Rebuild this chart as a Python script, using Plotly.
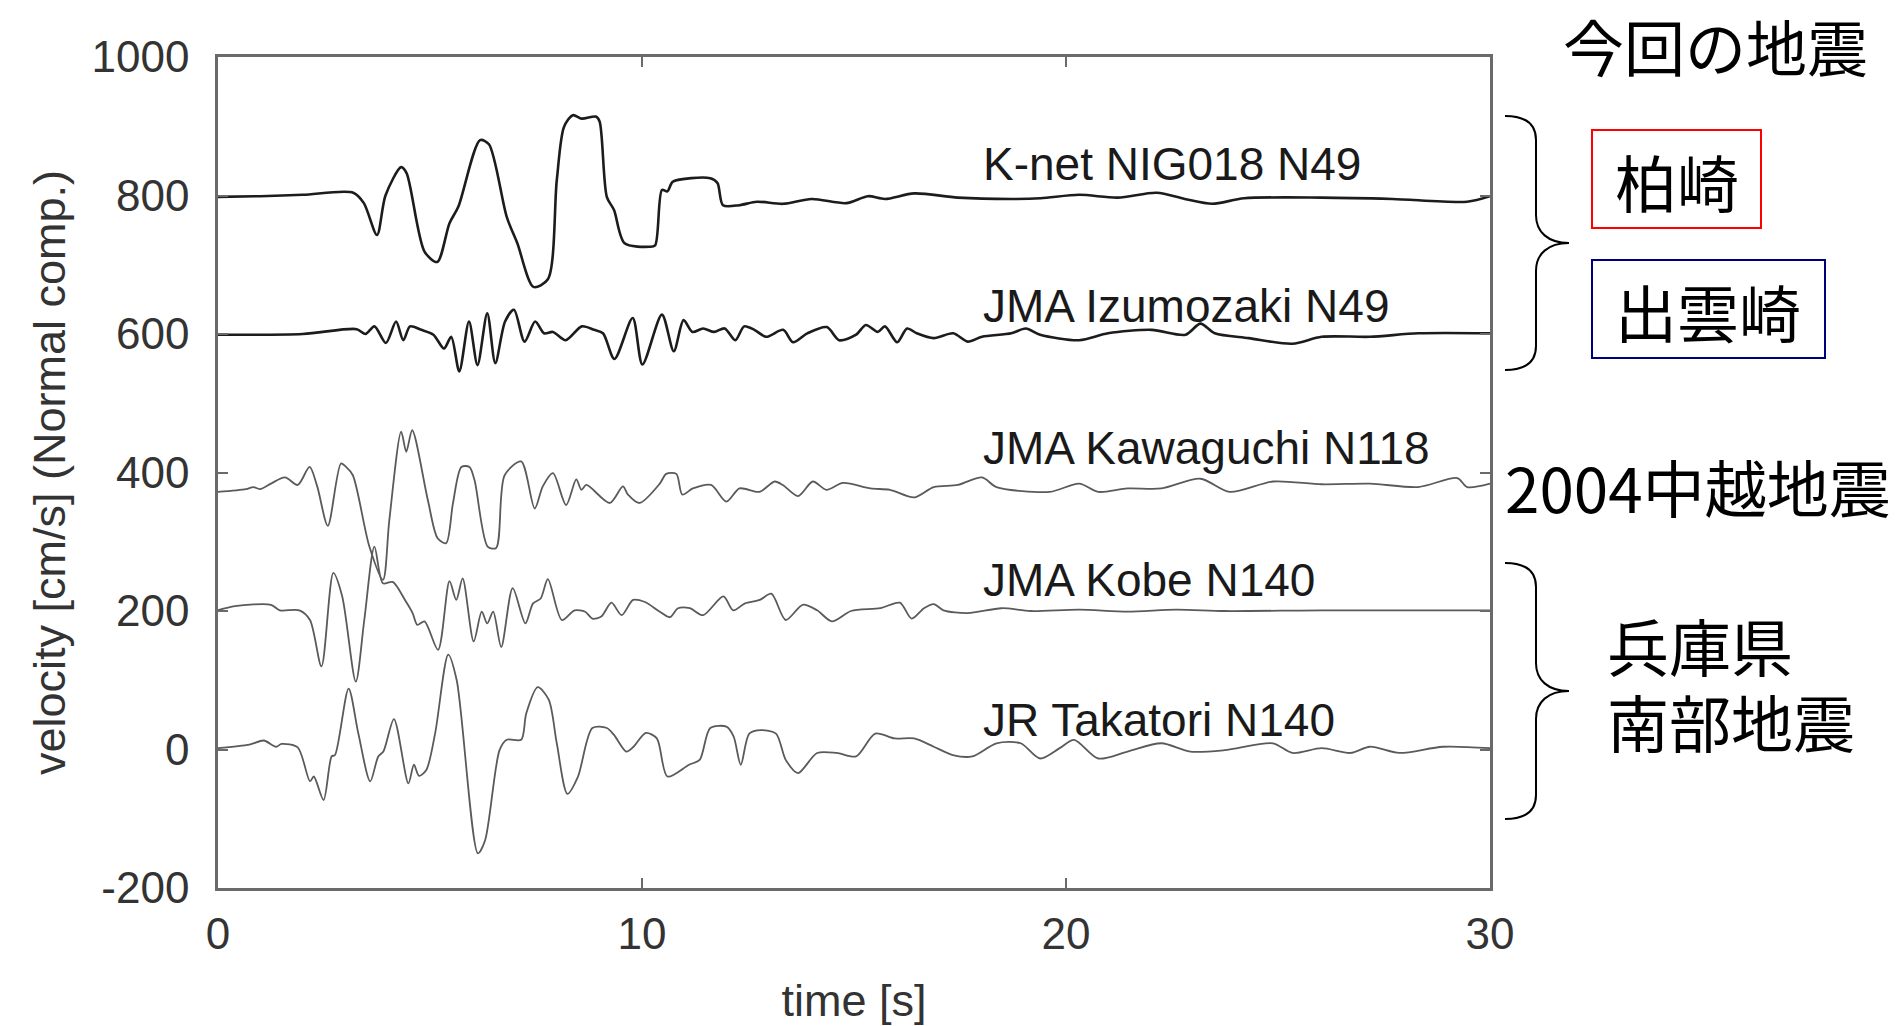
import plotly.graph_objects as go

# ---------------------------------------------------------------------------
# Velocity waveforms (normal component), each record shifted by its own offset
# time in seconds, velocity in cm/s (offset included)
# ---------------------------------------------------------------------------
knet_t = [0, 1.0, 2.0, 3.19, 3.44, 3.75, 3.95, 4.32, 4.45, 4.87, 5.17, 5.46, 5.67, 6.18, 6.39,
          6.81, 7.06, 7.44, 7.78, 7.99, 8.16, 8.37, 8.58, 8.91, 9.0, 9.17, 9.34, 9.59, 10.18,
          10.31, 10.47, 10.6, 10.73, 11.61, 11.78, 11.91, 12.29, 12.71, 13.33, 14.0, 14.82,
          15.33, 15.73, 16.42, 17.45, 18.71, 19.4, 20.31, 21.22, 22.14, 22.8, 23.45, 24.2,
          26.03, 27.7, 29.46, 30.0]
knet_v = [798, 799, 801, 804, 789, 743, 800, 841, 832, 719, 704, 760, 784, 880, 874,
          769, 731, 668, 679, 822, 899, 916, 911, 914, 907, 798, 779, 731, 726,
          728, 808, 806, 820, 825, 818, 786, 786, 791, 788, 795, 789,
          799, 795, 803, 797, 795, 796, 801, 797, 804, 795, 788, 796,
          797, 795, 791, 799]

izumo_t = [0, 2.0, 3.27, 3.48, 3.69, 3.96, 4.20, 4.37, 4.53, 4.79, 5.08, 5.33, 5.50, 5.69,
           5.92, 6.12, 6.35, 6.54, 6.77, 6.98, 7.23, 7.48, 7.69, 7.90, 8.20, 8.58, 8.87,
           9.08, 9.35, 9.78, 10.01, 10.47, 10.75, 10.98, 11.19, 11.44, 11.70, 11.95, 12.20,
           12.41, 12.65, 12.93, 13.33, 13.56, 13.90, 14.36, 14.65, 15.05, 15.28, 15.56,
           15.73, 16.02, 16.25, 16.48, 16.88, 17.34, 17.68, 18.02, 18.71, 19.05, 19.39,
           20.31, 20.99, 22.02, 22.82, 23.17, 23.51, 24.31, 25.34, 26.03, 27.17, 28.31, 30.0]
izumo_v = [599, 600, 607, 600, 611, 587, 618, 591, 611, 606, 599, 579, 596, 546,
           618, 555, 630, 558, 618, 635, 589, 618, 601, 603, 591, 611, 606,
           601, 564, 623, 556, 628, 575, 620, 603, 608, 603, 608, 591,
           611, 606, 596, 606, 588, 601, 610, 591, 599, 613, 603,
           611, 588, 608, 601, 594, 601, 589, 596, 601, 608, 599,
           591, 601, 606, 599, 615, 601, 594, 586, 596, 596, 601, 601]

kawa_t = [0, 0.66, 0.83, 0.99, 1.25, 1.58, 1.88, 2.16, 2.34, 2.59, 2.90, 3.02, 3.18, 3.57,
          3.89, 4.04, 4.32, 4.44, 4.58, 4.95, 5.18, 5.38, 5.54, 5.74, 5.93, 6.05, 6.36,
          6.56, 6.76, 7.15, 7.47, 7.66, 7.90, 8.21, 8.45, 8.57, 8.69, 9.24, 9.55, 9.67,
          9.94, 10.42, 10.57, 10.81, 10.95, 11.2, 11.63, 11.99, 12.30, 12.77, 13.13, 13.32,
          13.68, 14.03, 14.35, 14.74, 15.39, 15.85, 16.42, 16.88, 17.45, 18.02, 18.36,
          19.62, 20.31, 20.76, 21.45, 22.25, 23.17, 23.86, 24.88, 26.03, 27.17, 28.31,
          29.23, 29.46, 30.0]
kawa_v = [372, 376, 379, 376, 384, 393, 382, 408, 380, 323, 413, 408, 396, 293,
          245, 331, 459, 430, 461, 360, 305, 298, 355, 408, 408, 389, 293,
          291, 396, 416, 348, 380, 399, 353, 390, 375, 382, 356, 380, 368,
          356, 384, 398, 398, 368, 377, 382, 358, 377, 372, 387, 382,
          366, 387, 375, 385, 377, 375, 364, 379, 382, 393, 379,
          372, 384, 372, 377, 377, 391, 372, 387, 383, 384, 379,
          392, 379, 384]

kobe_t = [0, 0.40, 1.25, 1.46, 1.92, 2.17, 2.44, 2.72, 2.93, 3.25, 3.45, 3.69, 3.89, 4.12,
          4.41, 4.59, 4.70, 4.87, 5.19, 5.46, 5.62, 5.77, 6.03, 6.22, 6.35, 6.49, 6.68,
          6.95, 7.25, 7.43, 7.61, 7.78, 8.11, 8.41, 8.66, 8.83, 9.04, 9.28, 9.52, 9.79,
          10.07, 10.42, 10.66, 10.85, 11.13, 11.44, 11.92, 12.15, 12.43, 12.78, 13.05,
          13.39, 13.79, 14.13, 14.48, 14.93, 15.62, 16.08, 16.36, 16.65, 16.88, 17.11,
          17.68, 18.48, 19.17, 20.31, 21.45, 22.60, 23.74, 26.03, 30.0]
kobe_v = [201, 207, 209, 201, 201, 187, 120, 255, 221, 98, 187, 293, 240, 242,
          216, 197, 180, 185, 144, 243, 216, 247, 156, 199, 182, 199, 148,
          233, 182, 211, 218, 246, 187, 201, 199, 189, 192, 212, 194, 216,
          213, 199, 191, 204, 204, 194, 221, 201, 211, 216, 225,
          187, 209, 201, 185, 200, 204, 212, 189, 204, 210, 201,
          197, 204, 200, 202, 199, 202, 200, 201, 201]

taka_t = [0, 0.74, 1.08, 1.37, 1.50, 1.88, 2.17, 2.26, 2.49, 2.68, 2.76, 3.08, 3.31, 3.59,
          3.78, 3.90, 4.15, 4.49, 4.62, 4.74, 4.91, 5.12, 5.43, 5.63, 6.13, 6.30, 6.64,
          6.81, 7.15, 7.27, 7.54, 7.80, 7.99, 8.24, 8.49, 8.83, 9.17, 9.34, 9.63, 9.80,
          10.09, 10.35, 10.60, 11.11, 11.36, 11.61, 11.99, 12.16, 12.33, 12.53, 12.81,
          13.16, 13.39, 13.68, 14.13, 14.59, 15.05, 15.50, 15.96, 16.42, 16.88, 17.33,
          17.79, 18.36, 18.93, 19.39, 19.85, 20.19, 20.76, 21.45, 22.25, 22.93, 23.74,
          24.88, 25.34, 26.03, 26.71, 27.17, 27.86, 28.89, 30.0]
taka_v = [2, 7, 13, 4, 8, 3, -46, -39, -73, -10, -8, 88, 23, -46,
          -10, -3, 44, -49, -22, -38, -30, 23, 137, 100, -150, -131, -1,
          14, 14, 52, 90, 72, 9, -64, -39, 31, 31, 21, -3, 4,
          24, 16, -39, -22, -15, 31, 33, 19, -22, 23, 28,
          23, -15, -34, -5, -5, -10, 23, 16, 16, 4, -8,
          -10, 9, 9, -13, 2, 14, -13, -3, 9, -3, -1,
          9, -5, 2, -5, 4, -5, 4, 2]

station_names = ["K-net NIG018 N49", "JMA Izumozaki N49", "JMA Kawaguchi N118",
                 "JMA Kobe N140", "JR Takatori N140"]
label_t = [18, 18, 18, 18, 18]
label_v = [845, 640, 436, 245, 42]

y_ticks = [-200, 0, 200, 400, 600, 800, 1000]
y_ticktext = ["-200", "0", "200", "400", "600", "800", "1000"]
x_ticks = [0, 10, 20, 30]

# ---------------------------------------------------------------------------
W, H = 1904, 1026
ML, MR, MT, MB = 218, 414, 57, 138
PW, PH = W - ML - MR, H - MT - MB

def fx(x):
    """page pixel x -> paper coordinate"""
    return (x - ML) / PW

def fy(y):
    """page pixel y -> paper coordinate"""
    return (H - MB - y) / PH

LATIN = "Liberation Sans, Arial, sans-serif"
CJK = "Noto Sans CJK JP, sans-serif"
FRAME = "#6a6a6a"

fig = go.Figure()

series = [
    (knet_t, knet_v, "#1c1c1c", 2.6),
    (izumo_t, izumo_v, "#1c1c1c", 2.6),
    (kawa_t, kawa_v, "#5a5a5a", 1.8),
    (kobe_t, kobe_v, "#5a5a5a", 1.8),
    (taka_t, taka_v, "#5a5a5a", 1.8),
]
for (t, v, col, lw), name in zip(series, station_names):
    fig.add_trace(go.Scatter(
        x=t, y=v, mode="lines", name=name,
        line=dict(color=col, width=lw, shape="spline", smoothing=0.8),
        showlegend=False, hoverinfo="skip",
    ))

annotations = []
for name, t, v in zip(station_names, label_t, label_v):
    annotations.append(dict(
        x=t, y=v, xref="x", yref="y", text=name, showarrow=False,
        xanchor="left", yanchor="middle",
        font=dict(family=LATIN, size=46, color="#1a1a1a"),
    ))

def note(text, x, y, anchor="center", size=62):
    annotations.append(dict(
        x=fx(x), y=fy(y), xref="paper", yref="paper", text=text, showarrow=False,
        xanchor=anchor, yanchor="middle",
        font=dict(family=CJK, size=size, color="#000000"),
    ))

note("今回の地震", 1716, 45, size=61)
note("柏崎", 1677, 181)
note("出雲崎", 1708, 311)
note("2004中越地震", 1503, 486, "left")
note("兵庫県", 1605, 645, "left")
note("南部地震", 1605, 721, "left")

def brace(top, bottom):
    mid = (top + bottom) / 2
    xs, xv, xt = 1505, 1536, 1569
    pts = [
        ("M", [(xs, top)]),
        ("C", [(xs + 20, top), (xv, top + 8), (xv, top + 24)]),
        ("L", [(xv, mid - 28)]),
        ("C", [(xv, mid - 11), (xv + 12, mid), (xt, mid)]),
        ("C", [(xv + 12, mid), (xv, mid + 11), (xv, mid + 28)]),
        ("L", [(xv, bottom - 24)]),
        ("C", [(xv, bottom - 8), (xs + 20, bottom), (xs, bottom)]),
    ]
    path = " ".join(cmd + " " + " ".join(f"{fx(a):.5f},{fy(b):.5f}" for a, b in p)
                    for cmd, p in pts)
    return dict(type="path", path=path, xref="paper", yref="paper",
                line=dict(color="#000000", width=2))

shapes = [
    brace(116, 370),
    brace(563, 819),
    dict(type="rect", xref="paper", yref="paper",
         x0=fx(1592), x1=fx(1761), y0=fy(228), y1=fy(130),
         line=dict(color="#ff0000", width=2)),
    dict(type="rect", xref="paper", yref="paper",
         x0=fx(1592), x1=fx(1825), y0=fy(358), y1=fy(260),
         line=dict(color="#00007a", width=2)),
]

axis_common = dict(
    showgrid=False, zeroline=False, showline=True, mirror="ticks",
    automargin=False,
    linecolor=FRAME, linewidth=2.5, ticks="inside", ticklen=10,
    tickcolor=FRAME, tickwidth=2,
    tickfont=dict(family=LATIN, size=44, color="#333333"),
)

fig.update_layout(
    width=W, height=H,
    margin=dict(l=ML, r=MR, t=MT, b=MB, pad=0),
    paper_bgcolor="white", plot_bgcolor="white",
    xaxis=dict(range=[0, 30], tickvals=x_ticks, ticklabelstandoff=5,
               title=dict(text="time [s]", standoff=35,
                          font=dict(family=LATIN, size=45, color="#333333")),
               **axis_common),
    yaxis=dict(range=[-200, 1000], tickvals=y_ticks, ticktext=y_ticktext,
               ticklabelstandoff=17,
               title=dict(text="velocity [cm/s] (Normal comp.)", standoff=12,
                          font=dict(family=LATIN, size=45, color="#333333")),
               **axis_common),
    annotations=annotations,
    shapes=shapes,
)

fig.write_html("out.html")
